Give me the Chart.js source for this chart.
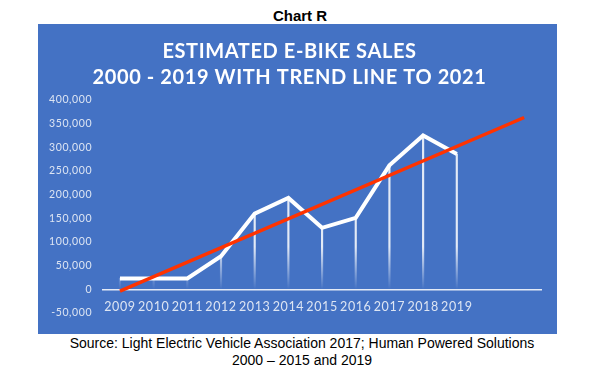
<!DOCTYPE html>
<html>
<head>
<meta charset="utf-8">
<script src="https://cdn.jsdelivr.net/npm/chart.js@4"></script>
<style>
  body { margin: 0; background: #fff; width: 600px; height: 372px; position: relative; overflow: hidden; }
  #head { position: absolute; left: 0; top: 7px; width: 600px; text-align: center; font: bold 15px "Liberation Sans", Arial, sans-serif; color: #000; }
  #panel { position: absolute; left: 38px; top: 24px; width: 519px; height: 310px; background: #4472C4; }
  #source { position: absolute; left: 0; top: 335px; width: 604px; text-align: center; font: 14px "Liberation Sans", Arial, sans-serif; line-height: 17px; color: #000; }
</style>
</head>
<body>
<div id="head">Chart R</div>
<div id="panel"><canvas id="salesChart" width="519" height="310"></canvas></div>
<div id="source">Source: Light Electric Vehicle Association 2017; Human Powered Solutions<br>2000 – 2015 and 2019</div>
<script>
// Estimated e-bike sales
const years = ['2009', '2010', '2011', '2012', '2013', '2014', '2015', '2016', '2017', '2018', '2019', '', ''];
const sales = [23000, 23000, 23000, 70000, 160000, 193000, 130000, 151000, 262000, 325000, 286000];
// trend line: start (2009) and end (2021) only
const trend = [-4000, null, null, null, null, null, null, null, null, null, null, null, 363000];
const yTicks = [-50000, 400000, 50000]; // min, max, step

const tickColor = '#dde5f3';

// thin white drop lines fading towards the zero line
function dropColor(context) {
    const chart = context.chart;
    const area = chart.chartArea;
    if (!area) return 'rgba(255,255,255,0.8)';
    const y = chart.scales.y;
    const g = chart.ctx.createLinearGradient(0, y.getPixelForValue(0), 0, y.getPixelForValue(90000));
    g.addColorStop(0, 'rgba(255,255,255,0)');
    g.addColorStop(1, 'rgba(255,255,255,0.85)');
    return g;
}

// Calibri-like spacing for all the chart text
const spacing = {
    id: 'spacing',
    beforeUpdate(chart) { chart.ctx.letterSpacing = '0.6px'; },
    beforeDraw(chart) { chart.ctx.letterSpacing = '0.6px'; }
};

const ctx = document.getElementById('salesChart').getContext('2d');
new Chart(ctx, {
    type: 'bar',
    data: {
        labels: years,
        datasets: [{
            type: 'line',
            label: 'Trend',
            data: trend,
            spanGaps: true,
            borderColor: '#FF3300',
            borderWidth: 3.5,
            pointRadius: 0,
            order: 0
        }, {
            type: 'line',
            label: 'Sales',
            data: sales,
            borderColor: '#ffffff',
            borderWidth: 4,
            pointRadius: 0,
            tension: 0,
            borderJoinStyle: 'miter',
            order: 1
        }, {
            label: 'Drop',
            data: sales,
            backgroundColor: dropColor,
            barThickness: 1.5,
            order: 2
        }]
    },
    plugins: [spacing],
    options: {
        responsive: false,
        animation: false,
        layout: { padding: { left: 0, right: 16, top: 12, bottom: 21 } },
        plugins: {
            legend: { display: false },
            tooltip: { enabled: false },
            title: {
                display: true,
                text: ['ESTIMATED E-BIKE SALES', '2000 - 2019 WITH TREND LINE TO 2021'],
                color: '#ffffff',
                font: { family: 'Lato', size: 20, weight: 'bold', lineHeight: 1.3 },
                padding: { top: 2.5, bottom: 9.5 }
            }
        },
        scales: {
            x: {
                position: { y: 0 },
                grid: { display: false, drawTicks: false },
                border: { display: true, color: '#e4eaf6', width: 1.5 },
                ticks: {
                    color: tickColor,
                    font: { family: 'Lato', size: 12.5 },
                    padding: 10,
                    maxRotation: 0,
                    autoSkip: false
                }
            },
            y: {
                min: yTicks[0],
                max: yTicks[1],
                grid: { display: false, drawTicks: false },
                border: { display: false },
                ticks: {
                    stepSize: yTicks[2],
                    color: tickColor,
                    font: { family: 'Lato', size: 10.5 },
                    padding: 11,
                    callback: v => v.toLocaleString('en-US')
                }
            }
        }
    }
});
</script>
</body>
</html>
